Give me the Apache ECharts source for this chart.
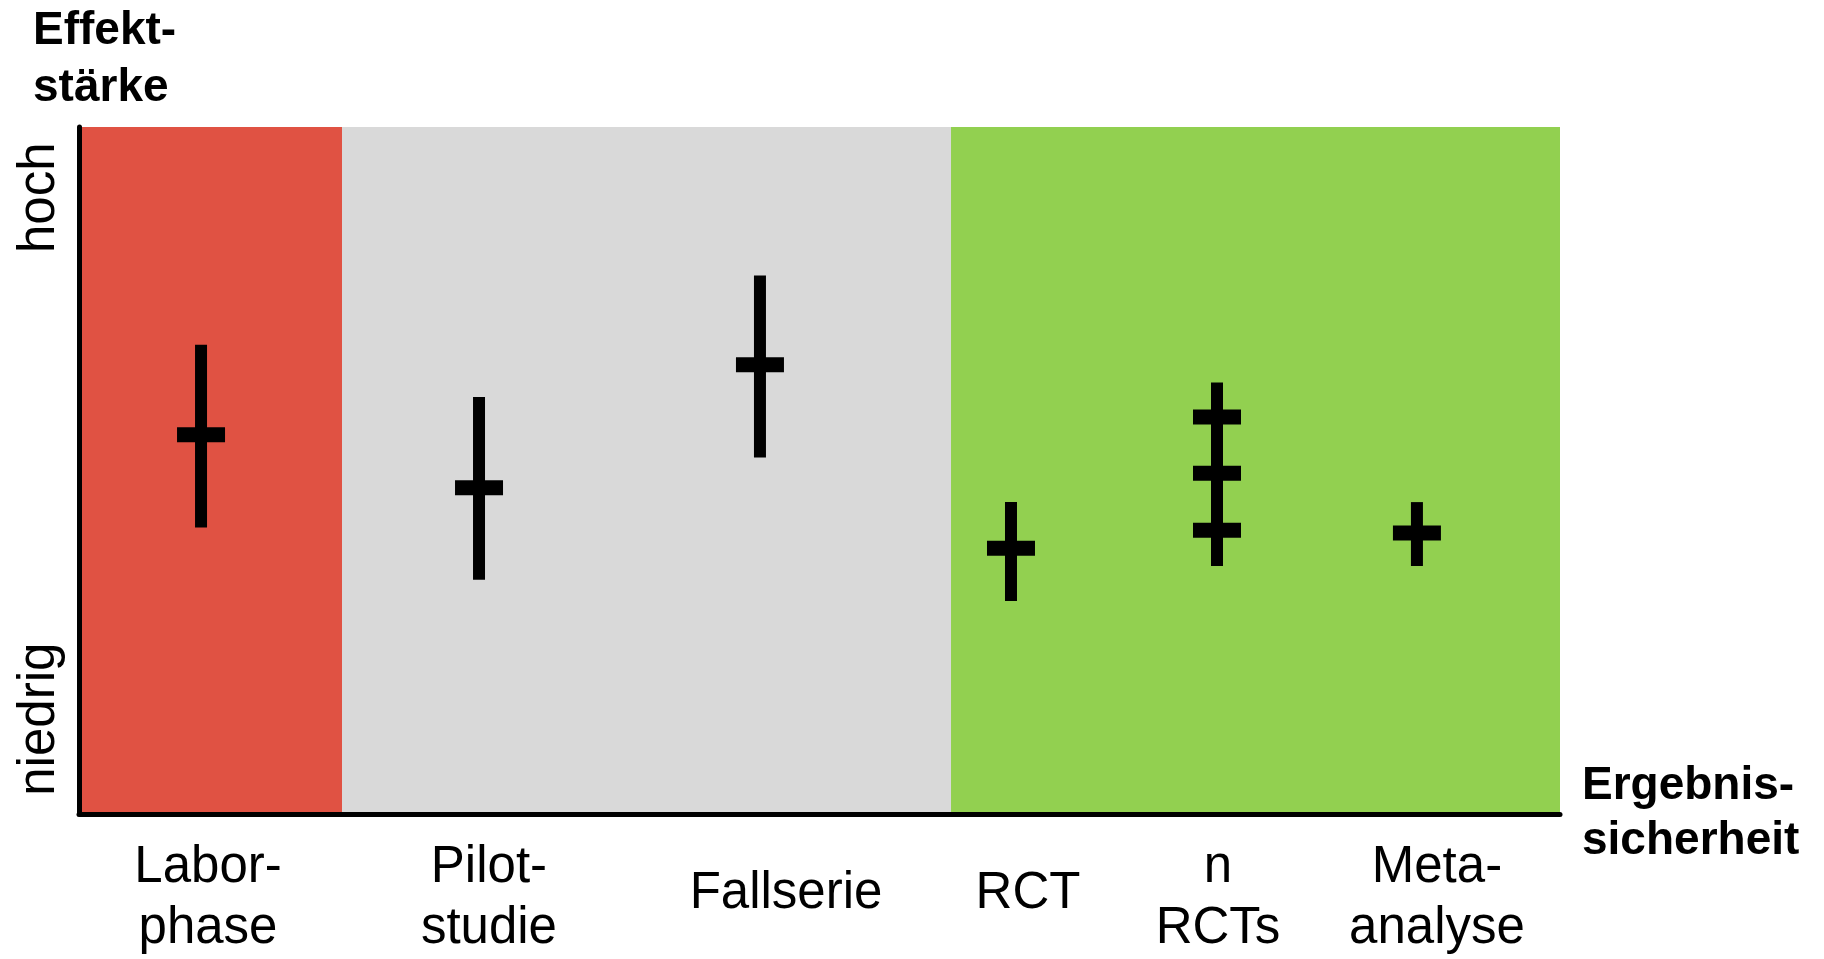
<!DOCTYPE html>
<html>
<head>
<meta charset="utf-8">
<script src="https://cdn.jsdelivr.net/npm/echarts@6/dist/echarts.min.js"></script>
<style>
  html, body { margin: 0; padding: 0; background: #fff; }
  #chart { width: 1824px; height: 959px; }
</style>
</head>
<body>
<div id="chart"></div>
<script>
// Kategorien (x-Achse) und ihre Beschriftungspositionen
const categories = ['Labor-\nphase', 'Pilot-\nstudie', 'Fallserie', 'RCT', 'n\nRCTs', 'Meta-\nanalyse']
const labelPos = [8.71, 27.68, 47.74, 64.08, 76.91, 91.69]

// Kreuze: x-Position, unteres/oberes Ende, Querbalken
const crossX = [8.24, 27.01, 45.98, 62.93, 76.84, 90.34]
const lowVals = [41.7, 34.1, 51.9, 31.0, 36.1, 36.1]
const highVals = [68.3, 60.7, 78.4, 45.4, 62.8, 45.4]
const pointVals = [[55.2], [47.5], [65.4], [38.7], [57.8, 49.6, 41.3], [40.9]]

// Hintergrundbereiche
const zoneEdges = [0, 17.76, 58.88, 100]
const zoneColors = ['#E05243', '#D9D9D9', '#92D050']

// y-Achse
const yTickPos = [89.7, 13.8]
const yTickLabels = ['hoch', 'niedrig']

const FONT = 'Liberation Sans, Arial, Helvetica, sans-serif'

const chart = echarts.init(document.getElementById('chart'))

const zoneData = zoneColors.map((c, i) => [
  { xAxis: zoneEdges[i], itemStyle: { color: c } },
  { xAxis: zoneEdges[i + 1] }
])

const crossData = crossX.map((x, i) => [x, lowVals[i], highVals[i], i])

function lookup(value, positions, labels) {
  for (let i = 0; i < positions.length; i++) {
    if (Math.abs(positions[i] - value) < 1e-6) return labels[i]
  }
  return ''
}

const option = {
  animation: false,
  title: {
    text: 'Effekt-\nstärke',
    left: 33,
    top: 3,
    padding: 0,
    textStyle: { fontFamily: FONT, fontSize: 46, fontWeight: 'bold', lineHeight: 57, color: '#000' }
  },
  grid: { left: 79, right: 264, top: 127, bottom: 142 },
  xAxis: {
    type: 'value',
    min: 0,
    max: 100,
    z: 10,
    name: 'Ergebnis-\nsicherheit',
    nameLocation: 'end',
    nameGap: 22,
    nameTextStyle: { fontFamily: FONT, fontSize: 46, fontWeight: 'bold', lineHeight: 55, color: '#000', align: 'left', verticalAlign: 'middle' },
    axisLine: { show: true, lineStyle: { color: '#000', width: 5 } },
    axisTick: { show: false },
    splitLine: { show: false },
    axisLabel: {
      customValues: labelPos,
      margin: 23,
      fontFamily: FONT,
      fontSize: 51,
      lineHeight: 61,
      color: '#000',
      formatter: function (v) {
        const t = lookup(v, labelPos, categories)
        return t.indexOf('\n') >= 0 ? t : '{one|' + t + '}'
      },
      rich: {
        one: { fontFamily: FONT, fontSize: 51, lineHeight: 114, color: '#000' }
      }
    }
  },
  yAxis: {
    type: 'value',
    min: 0,
    max: 100,
    z: 10,
    axisLine: { show: true, lineStyle: { color: '#000', width: 5 } },
    axisTick: { show: false },
    splitLine: { show: false },
    axisLabel: {
      customValues: yTickPos,
      rotate: 90,
      margin: 14,
      fontFamily: FONT,
      fontSize: 51,
      color: '#000',
      formatter: function (v) { return lookup(v, yTickPos, yTickLabels) }
    }
  },
  series: [
    {
      type: 'line',
      data: [],
      z: 1,
      markArea: { silent: true, data: zoneData }
    },
    {
      type: 'custom',
      z: 5,
      data: crossData,
      renderItem: function (params, api) {
        const x = api.value(0)
        const top = api.coord([x, api.value(2)])
        const bottom = api.coord([x, api.value(1)])
        const children = [{
          type: 'rect',
          shape: { x: top[0] - 6, y: top[1], width: 12, height: bottom[1] - top[1] },
          style: { fill: '#000' }
        }]
        pointVals[api.value(3)].forEach(function (m) {
          const p = api.coord([x, m])
          children.push({
            type: 'rect',
            shape: { x: p[0] - 24, y: p[1] - 7.5, width: 48, height: 15 },
            style: { fill: '#000' }
          })
        })
        return { type: 'group', children: children }
      }
    }
  ]
}

chart.setOption(option)
</script>
</body>
</html>
